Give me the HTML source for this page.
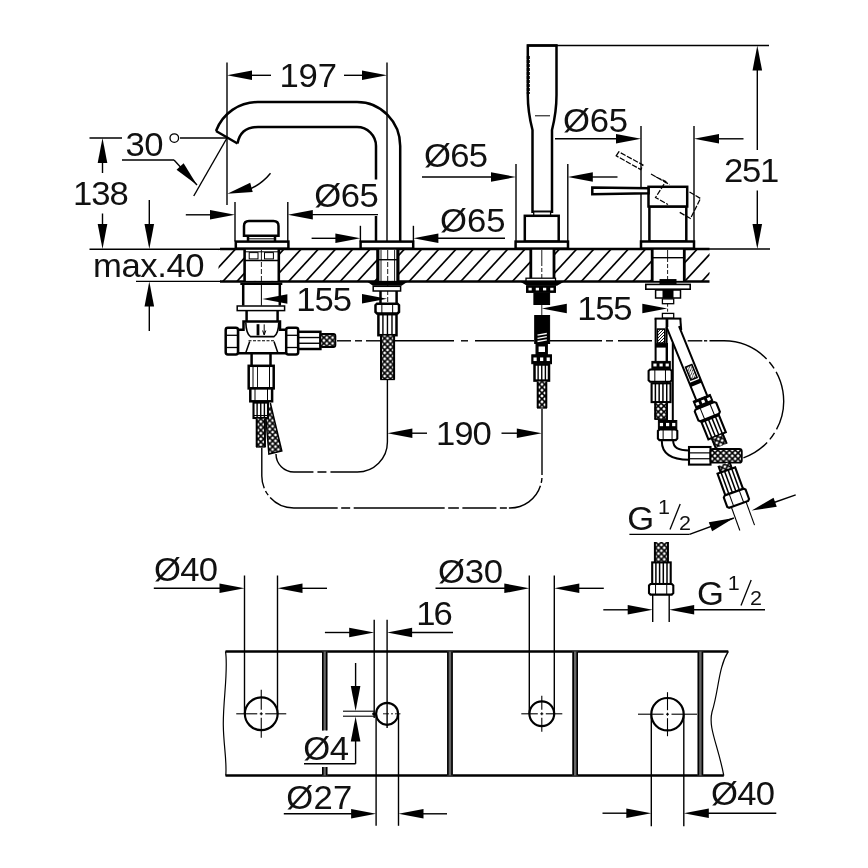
<!DOCTYPE html>
<html><head><meta charset="utf-8"><title>Dimensional drawing</title>
<style>
html,body{margin:0;padding:0;background:#fff;}
svg{display:block;}
text{font-family:"Liberation Sans",sans-serif;fill:#111;stroke:none;}
svg{will-change:transform;}
</style></head>
<body>
<svg width="868" height="868" viewBox="0 0 868 868" stroke="#000" fill="none" stroke-linecap="butt">
<defs>
<pattern id="br" width="5.8" height="5.8" patternUnits="userSpaceOnUse">
<rect width="5.8" height="5.8" fill="#fff" stroke="none"/>
<path d="M-1 -1 L6.8 6.8 M6.8 -1 L-1 6.8" stroke="#000" stroke-width="1.55"/>
</pattern>
<pattern id="br2" width="3" height="3" patternUnits="userSpaceOnUse">
<rect width="3" height="3" fill="#fff" stroke="none"/>
<path d="M-1 4 L4 -1 M-1 1 L1 -1 M2 4 L4 2" stroke="#000" stroke-width="0.9"/>
</pattern>
</defs>
<rect width="868" height="868" fill="#fff" stroke="none"/>
<line x1="227.00" y1="62.50" x2="227.00" y2="205.00" stroke-width="1.4" />
<line x1="387.00" y1="62.50" x2="387.00" y2="241.60" stroke-width="1.4" />
<polygon points="227.00,75.30 252.00,70.50 252.00,80.10" fill="#000" stroke="none"/>
<line x1="251.00" y1="75.30" x2="271.00" y2="75.30" stroke-width="1.4" />
<line x1="344.00" y1="75.30" x2="363.00" y2="75.30" stroke-width="1.4" />
<polygon points="387.00,75.30 362.00,80.10 362.00,70.50" fill="#000" stroke="none"/>
<text transform="translate(279.60 86.60) scale(1.05 1)" font-size="33.0" letter-spacing="-0.24" >197</text>
<line x1="89.50" y1="138.00" x2="122.00" y2="138.00" stroke-width="1.4" />
<line x1="180.00" y1="138.00" x2="227.00" y2="138.00" stroke-width="1.4" />
<polygon points="102.50,138.00 107.30,163.00 97.70,163.00" fill="#000" stroke="none"/>
<line x1="102.50" y1="162.00" x2="102.50" y2="173.00" stroke-width="1.4" />
<line x1="102.50" y1="213.50" x2="102.50" y2="226.00" stroke-width="1.4" />
<polygon points="102.50,249.00 97.70,224.00 107.30,224.00" fill="#000" stroke="none"/>
<text transform="translate(73.00 205.00) scale(1.05 1)" font-size="33.0" letter-spacing="-0.95" >138</text>
<line x1="89.50" y1="249.20" x2="221.00" y2="249.20" stroke-width="1.4" />
<line x1="136.00" y1="281.40" x2="221.00" y2="281.40" stroke-width="1.4" />
<line x1="149.30" y1="200.00" x2="149.30" y2="226.00" stroke-width="1.4" />
<polygon points="149.30,249.00 144.50,224.00 154.10,224.00" fill="#000" stroke="none"/>
<polygon points="149.30,281.50 154.10,306.50 144.50,306.50" fill="#000" stroke="none"/>
<line x1="149.30" y1="305.00" x2="149.30" y2="331.00" stroke-width="1.4" />
<text transform="translate(93.00 276.60) scale(1.05 1)" font-size="33.0" letter-spacing="-0.38" >max.40</text>
<text transform="translate(125.40 156.00) scale(1.05 1)" font-size="33.0" letter-spacing="-0.48" >30</text>
<circle cx="174.3" cy="138.1" r="4.3" fill="none" stroke-width="1.3"/>
<line x1="122.00" y1="160.00" x2="174.00" y2="160.00" stroke-width="1.4" />
<line x1="174.00" y1="160.00" x2="197.00" y2="185.00" stroke-width="1.4" />
<polygon points="197.00,185.00 176.54,169.85 183.61,163.35" fill="#000" stroke="none"/>
<line x1="227.00" y1="138.00" x2="193.75" y2="196.00" stroke-width="1.4" />
<path d="M270.52 173.24 A56 56 0 0 1 246.15 190.62" stroke-width="1.4" fill="none" />
<polygon points="227.30,193.80 250.20,182.67 252.69,191.95" fill="#000" stroke="none"/>
<line x1="235.00" y1="202.00" x2="235.00" y2="241.60" stroke-width="1.4" />
<line x1="287.80" y1="202.00" x2="287.80" y2="241.60" stroke-width="1.4" />
<line x1="185.80" y1="214.80" x2="211.00" y2="214.80" stroke-width="1.4" />
<polygon points="235.00,214.80 210.00,219.60 210.00,210.00" fill="#000" stroke="none"/>
<polygon points="287.80,214.80 312.80,210.00 312.80,219.60" fill="#000" stroke="none"/>
<line x1="311.00" y1="214.60" x2="378.00" y2="214.60" stroke-width="1.4" />
<text transform="translate(314.20 207.00) scale(1.05 1)" font-size="33.0" letter-spacing="-0.48" >Ø65</text>
<line x1="360.40" y1="225.80" x2="360.40" y2="241.60" stroke-width="1.4" />
<line x1="413.40" y1="225.80" x2="413.40" y2="241.60" stroke-width="1.4" />
<line x1="311.60" y1="238.30" x2="337.00" y2="238.30" stroke-width="1.4" />
<polygon points="360.40,238.30 335.40,243.10 335.40,233.50" fill="#000" stroke="none"/>
<polygon points="413.40,238.30 438.40,233.50 438.40,243.10" fill="#000" stroke="none"/>
<line x1="437.00" y1="238.30" x2="505.00" y2="238.30" stroke-width="1.4" />
<text transform="translate(440.00 231.80) scale(1.05 1)" font-size="33.0" letter-spacing="0.00" >Ø65</text>
<line x1="516.00" y1="164.00" x2="516.00" y2="241.60" stroke-width="1.4" />
<line x1="567.80" y1="164.00" x2="567.80" y2="241.60" stroke-width="1.4" />
<line x1="422.00" y1="177.00" x2="492.00" y2="177.00" stroke-width="1.4" />
<polygon points="516.00,177.00 491.00,181.80 491.00,172.20" fill="#000" stroke="none"/>
<polygon points="567.80,177.00 592.80,172.20 592.80,181.80" fill="#000" stroke="none"/>
<line x1="592.00" y1="177.00" x2="617.50" y2="177.00" stroke-width="1.4" />
<text transform="translate(424.00 167.00) scale(1.05 1)" font-size="33.0" letter-spacing="-0.71" >Ø65</text>
<line x1="641.00" y1="126.00" x2="641.00" y2="241.50" stroke-width="1.4" />
<line x1="694.00" y1="126.00" x2="694.00" y2="241.50" stroke-width="1.4" />
<line x1="555.00" y1="138.80" x2="617.00" y2="138.80" stroke-width="1.4" />
<polygon points="641.00,138.80 616.00,143.60 616.00,134.00" fill="#000" stroke="none"/>
<polygon points="694.00,138.80 719.00,134.00 719.00,143.60" fill="#000" stroke="none"/>
<line x1="718.00" y1="138.80" x2="743.50" y2="138.80" stroke-width="1.4" />
<text transform="translate(563.00 131.60) scale(1.05 1)" font-size="33.0" letter-spacing="-0.24" >Ø65</text>
<line x1="556.50" y1="45.50" x2="769.00" y2="45.50" stroke-width="1.4" />
<line x1="709.00" y1="249.00" x2="770.00" y2="249.00" stroke-width="1.4" />
<polygon points="757.30,45.50 762.10,70.50 752.50,70.50" fill="#000" stroke="none"/>
<line x1="757.30" y1="69.00" x2="757.30" y2="150.00" stroke-width="1.4" />
<line x1="757.30" y1="190.50" x2="757.30" y2="225.00" stroke-width="1.4" />
<polygon points="757.30,249.00 752.50,224.00 762.10,224.00" fill="#000" stroke="none"/>
<text transform="translate(724.00 182.00) scale(1.05 1)" font-size="33.0" letter-spacing="-1.19" >251</text>
<polygon points="262.40,299.00 287.40,294.20 287.40,303.80" fill="#000" stroke="none"/>
<polygon points="387.00,298.80 362.00,303.60 362.00,294.00" fill="#000" stroke="none"/>
<text transform="translate(296.20 310.80) scale(1.05 1)" font-size="33.0" letter-spacing="-0.95" >155</text>
<polygon points="541.80,308.50 566.80,303.70 566.80,313.30" fill="#000" stroke="none"/>
<polygon points="667.30,308.50 642.30,313.30 642.30,303.70" fill="#000" stroke="none"/>
<text transform="translate(577.20 320.00) scale(1.05 1)" font-size="33.0" letter-spacing="-1.19" >155</text>
<polygon points="387.40,433.20 412.40,428.40 412.40,438.00" fill="#000" stroke="none"/>
<line x1="411.00" y1="433.20" x2="427.00" y2="433.20" stroke-width="1.4" />
<line x1="501.50" y1="433.20" x2="517.50" y2="433.20" stroke-width="1.4" />
<polygon points="541.80,433.20 516.80,438.00 516.80,428.40" fill="#000" stroke="none"/>
<text transform="translate(436.00 444.80) scale(1.05 1)" font-size="33.0" letter-spacing="-0.95" >190</text>
<clipPath id="cc"><rect x="218.5" y="249" width="491" height="32.5"/></clipPath>
<g clip-path="url(#cc)">
<line x1="201.12" y1="249.00" x2="171.12" y2="281.50" stroke-width="1.7" />
<line x1="218.34" y1="249.00" x2="188.34" y2="281.50" stroke-width="1.7" />
<line x1="235.56" y1="249.00" x2="205.56" y2="281.50" stroke-width="1.7" />
<line x1="252.78" y1="249.00" x2="222.78" y2="281.50" stroke-width="1.7" />
<line x1="266.80" y1="249.00" x2="236.80" y2="281.50" stroke-width="1.7" />
<line x1="284.02" y1="249.00" x2="254.02" y2="281.50" stroke-width="1.7" />
<line x1="301.24" y1="249.00" x2="271.24" y2="281.50" stroke-width="1.7" />
<line x1="318.46" y1="249.00" x2="288.46" y2="281.50" stroke-width="1.7" />
<line x1="335.68" y1="249.00" x2="305.68" y2="281.50" stroke-width="1.7" />
<line x1="352.90" y1="249.00" x2="322.90" y2="281.50" stroke-width="1.7" />
<line x1="370.12" y1="249.00" x2="340.12" y2="281.50" stroke-width="1.7" />
<line x1="387.34" y1="249.00" x2="357.34" y2="281.50" stroke-width="1.7" />
<line x1="404.56" y1="249.00" x2="374.56" y2="281.50" stroke-width="1.7" />
<line x1="421.78" y1="249.00" x2="391.78" y2="281.50" stroke-width="1.7" />
<line x1="439.00" y1="249.00" x2="409.00" y2="281.50" stroke-width="1.7" />
<line x1="456.22" y1="249.00" x2="426.22" y2="281.50" stroke-width="1.7" />
<line x1="473.44" y1="249.00" x2="443.44" y2="281.50" stroke-width="1.7" />
<line x1="490.66" y1="249.00" x2="460.66" y2="281.50" stroke-width="1.7" />
<line x1="507.88" y1="249.00" x2="477.88" y2="281.50" stroke-width="1.7" />
<line x1="525.10" y1="249.00" x2="495.10" y2="281.50" stroke-width="1.7" />
<line x1="542.32" y1="249.00" x2="512.32" y2="281.50" stroke-width="1.7" />
<line x1="559.54" y1="249.00" x2="529.54" y2="281.50" stroke-width="1.7" />
<line x1="576.76" y1="249.00" x2="546.76" y2="281.50" stroke-width="1.7" />
<line x1="593.98" y1="249.00" x2="563.98" y2="281.50" stroke-width="1.7" />
<line x1="611.20" y1="249.00" x2="581.20" y2="281.50" stroke-width="1.7" />
<line x1="628.42" y1="249.00" x2="598.42" y2="281.50" stroke-width="1.7" />
<line x1="645.64" y1="249.00" x2="615.64" y2="281.50" stroke-width="1.7" />
<line x1="662.86" y1="249.00" x2="632.86" y2="281.50" stroke-width="1.7" />
<line x1="680.08" y1="249.00" x2="650.08" y2="281.50" stroke-width="1.7" />
<line x1="697.30" y1="249.00" x2="667.30" y2="281.50" stroke-width="1.7" />
<line x1="714.52" y1="249.00" x2="684.52" y2="281.50" stroke-width="1.7" />
<line x1="731.74" y1="249.00" x2="701.74" y2="281.50" stroke-width="1.7" />
<line x1="748.96" y1="249.00" x2="718.96" y2="281.50" stroke-width="1.7" />
<line x1="766.18" y1="249.00" x2="736.18" y2="281.50" stroke-width="1.7" />
</g>
<line x1="220.00" y1="249.00" x2="709.50" y2="249.00" stroke-width="2.5" />
<line x1="220.00" y1="281.50" x2="709.50" y2="281.50" stroke-width="2.5" />
<path d="M216 131 A44.5 44.5 0 0 1 258 102 H357 A43.2 44 0 0 1 400.2 146 V241.6" stroke-width="2.5" fill="none" />
<path d="M216 131 L237.5 143.5" stroke-width="2.5" fill="none" />
<path d="M237.5 143.5 Q240.5 127 258 127 H357 A19 19 0 0 1 376 146 V179.5" stroke-width="2.5" fill="none" />
<line x1="376.00" y1="216.00" x2="376.00" y2="241.60" stroke-width="2.5" />
<rect x="360.60" y="241.60" width="52.60" height="7.00" stroke-width="2.5" fill="#fff" />
<path d="M244 235.8 V226 Q244 221 249 221 H273.5 Q278.5 221 278.5 226 V235.8 Z" stroke-width="2.5" fill="#fff" />
<path d="M248 235.8 V241.6 M275 235.8 V241.6" stroke-width="2.5" fill="none" />
<line x1="248.00" y1="238.80" x2="275.00" y2="238.80" stroke-width="1.0" />
<rect x="235.80" y="241.60" width="52.60" height="7.00" stroke-width="2.5" fill="#fff" />
<path d="M527.8 45.5 H556.5 V95 Q556.5 112 552 130 V211.8 H532.5 V130 Q527.8 112 527.8 95 Z" stroke-width="2.5" fill="#fff" />
<line x1="527.20" y1="45.50" x2="557.10" y2="45.50" stroke-width="2.2" />
<line x1="528.30" y1="56.00" x2="528.30" y2="94.00" stroke-width="3.0" stroke-dasharray="3 1"/>
<line x1="535.00" y1="115.80" x2="550.00" y2="115.80" stroke-width="1.0" />
<rect x="533.70" y="211.80" width="16.90" height="4.00" stroke-width="1.3" fill="#fff" />
<rect x="524.80" y="215.80" width="33.90" height="25.80" stroke-width="2.5" fill="#fff" />
<rect x="515.60" y="241.60" width="52.40" height="7.00" stroke-width="2.5" fill="#fff" />
<rect x="649.40" y="206.50" width="36.90" height="35.00" stroke-width="2.5" fill="#fff" />
<rect x="648.50" y="186.80" width="38.70" height="19.70" stroke-width="2.5" fill="#fff" />
<path d="M592.3 187.5 L648.5 188.3 V193.2 L592.3 194.2 Z" stroke-width="2.5" fill="#fff" />
<rect x="641.00" y="241.50" width="53.00" height="7.10" stroke-width="2.5" fill="#fff" />
<g stroke-dasharray="5.5 1.5" fill="none" stroke-width="1.25">
<path d="M616.2 155.8 L618.8 151.8 L643 165 L640.8 169.6 Z"/>
<path d="M651 174 L669.5 184.5 M656 177 L665.8 181.5 L655.5 197.5 L668 204.5 M689.5 192 L700.5 198.5 L690.5 218.5 L679 212"/>
</g>
<rect x="244.4" y="249.8" width="34.6" height="31" fill="#fff" stroke="none"/>
<line x1="244.60" y1="249.00" x2="244.60" y2="281.50" stroke-width="2.6" />
<line x1="278.80" y1="249.00" x2="278.80" y2="281.50" stroke-width="2.6" />
<line x1="245.00" y1="251.80" x2="278.00" y2="251.80" stroke-width="1.0" />
<rect x="249.20" y="252.60" width="8.80" height="6.30" stroke-width="1.0" fill="#fff" />
<rect x="264.50" y="252.60" width="8.90" height="6.30" stroke-width="1.0" fill="#fff" />
<line x1="245.00" y1="260.50" x2="278.00" y2="260.50" stroke-width="1.6" />
<line x1="261.40" y1="250.00" x2="261.40" y2="260.00" stroke-width="0.9" />
<line x1="261.40" y1="262.00" x2="261.40" y2="281.00" stroke-width="0.9" stroke-dasharray="5 2"/>
<line x1="261.40" y1="285.00" x2="261.40" y2="305.60" stroke-width="1.0" />
<line x1="240.30" y1="283.70" x2="282.30" y2="283.70" stroke-width="2.6" />
<path d="M243.2 285 V305.6 M279.8 285 V305.6" stroke-width="2.5" fill="none" />
<rect x="237.20" y="306.00" width="47.40" height="4.60" stroke-width="1.5" fill="#fff" />
<path d="M246.6 311 V321.5 M277.6 311 V321.5" stroke-width="2.5" fill="none" />
<path d="M243.5 321.4 H280 V329.7 H286.4 V353.2 H237.9 V329.7 H243.5 Z" stroke-width="2.5" fill="#fff" />
<path d="M245.8 322.5 Q246.2 334 250.5 336.6 H274 Q278.4 334 278.8 322.5" stroke-width="1.6" fill="none" />
<line x1="248.50" y1="340.80" x2="275.50" y2="340.80" stroke-width="1.1" stroke-dasharray="3 1.5"/>
<path d="M249.7 341.5 L245.6 353.2 M274 341.5 L278 353.2" stroke-width="1.5" fill="none" />
<line x1="258.00" y1="324.20" x2="258.00" y2="335.40" stroke-width="2.8" />
<path d="M264.2 324.4 V334.5 M262.6 330.5 L264.2 335 L265.8 330.5" stroke-width="1.0" fill="none" />
<rect x="225.7" y="327.7" width="12.3" height="26.7" rx="2.2" fill="#fff" stroke-width="2.5"/>
<line x1="226.50" y1="335.30" x2="238.00" y2="335.30" stroke-width="1.3" />
<line x1="226.50" y1="347.50" x2="238.00" y2="347.50" stroke-width="1.3" />
<rect x="286.2" y="327.7" width="12" height="26.7" rx="2.2" fill="#fff" stroke-width="2.5"/>
<line x1="286.50" y1="335.30" x2="298.00" y2="335.30" stroke-width="1.3" />
<line x1="286.50" y1="347.50" x2="298.00" y2="347.50" stroke-width="1.3" />
<rect x="298.20" y="331.80" width="22.20" height="17.20" stroke-width="2.5" fill="#fff" />
<line x1="298.20" y1="337.53" x2="320.40" y2="337.53" stroke-width="1.4" />
<line x1="298.20" y1="343.27" x2="320.40" y2="343.27" stroke-width="1.4" />
<pattern id="b1" x="321.00" y="340.50" width="5.8" height="5.8" patternUnits="userSpaceOnUse"><rect width="5.8" height="5.8" fill="#fff" stroke="none"/><path d="M-1 -1 L6.8 6.8 M6.8 -1 L-1 6.8" stroke="#000" stroke-width="1.55"/></pattern>
<rect x="320.4" y="334" width="15" height="13" rx="2" fill="url(#b1)" stroke-width="1.8"/>
<path d="M251.6 352 V365.8 M270.5 352 V365.8" stroke-width="2.5" fill="none" />
<rect x="248.70" y="365.80" width="25.00" height="22.60" stroke-width="2.5" fill="#fff" />
<line x1="253.00" y1="366.00" x2="253.00" y2="388.00" stroke-width="1.0" />
<line x1="257.50" y1="366.00" x2="257.50" y2="388.00" stroke-width="0.9" />
<line x1="269.50" y1="366.00" x2="269.50" y2="388.00" stroke-width="1.0" />
<rect x="250.30" y="388.40" width="21.80" height="12.90" stroke-width="2.5" fill="#fff" />
<line x1="255.00" y1="389.00" x2="255.00" y2="401.00" stroke-width="1.0" />
<line x1="267.50" y1="389.00" x2="267.50" y2="401.00" stroke-width="1.0" />
<polygon points="266.5,418.7 270.3,404 281.8,451 268.9,454" fill="url(#br)" stroke="none"/>
<path d="M270.3 403 L281.8 451 L268.9 454 L266 419" stroke-width="1.5" fill="none" />
<rect x="253.50" y="402.60" width="14.50" height="15.40" stroke-width="2.1" fill="#fff" />
<line x1="257.12" y1="402.60" x2="257.12" y2="418.00" stroke-width="1.4" />
<line x1="260.75" y1="402.60" x2="260.75" y2="418.00" stroke-width="1.4" />
<line x1="264.38" y1="402.60" x2="264.38" y2="418.00" stroke-width="1.4" />
<line x1="253.50" y1="415.50" x2="268.00" y2="415.50" stroke-width="1.0" />
<pattern id="b2" x="260.80" y="418.70" width="5.8" height="5.8" patternUnits="userSpaceOnUse"><rect width="5.8" height="5.8" fill="#fff" stroke="none"/><path d="M-1 -1 L6.8 6.8 M6.8 -1 L-1 6.8" stroke="#000" stroke-width="1.55"/></pattern>
<rect x="256.00" y="418.70" width="9.60" height="28.30" fill="url(#b2)" stroke="none"/>
<line x1="256.70" y1="418.70" x2="256.70" y2="447.00" stroke-width="2.0" />
<line x1="264.90" y1="418.70" x2="264.90" y2="447.00" stroke-width="2.0" />
<line x1="256.00" y1="447.00" x2="265.60" y2="447.00" stroke-width="1.3" />
<rect x="377.3" y="249.8" width="21" height="31" fill="#fff" stroke="none"/>
<line x1="377.80" y1="249.00" x2="377.80" y2="281.50" stroke-width="3.2" />
<line x1="397.90" y1="249.00" x2="397.90" y2="281.50" stroke-width="3.2" />
<line x1="381.00" y1="250.00" x2="381.00" y2="281.00" stroke-width="0.9" />
<line x1="394.60" y1="250.00" x2="394.60" y2="281.00" stroke-width="0.9" />
<line x1="379.00" y1="259.70" x2="397.00" y2="259.70" stroke-width="1.4" />
<line x1="387.70" y1="250.00" x2="387.70" y2="259.00" stroke-width="0.9" />
<line x1="387.70" y1="262.00" x2="387.70" y2="303.00" stroke-width="0.9" stroke-dasharray="5 2"/>
<polygon points="366.8,281.5 407.9,281.5 401.5,285.8 373,285.8" fill="#000" stroke="none"/>
<rect x="373.20" y="286.30" width="27.40" height="4.70" stroke-width="1.5" fill="#fff" />
<path d="M380.5 291 V304 M396.6 291 V304" stroke-width="2.5" fill="none" />
<path d="M377.00 303.70 H397.50 L399.00 305.20 V311.90 L397.50 313.40 H377.00 L375.50 311.90 V305.20 Z" stroke-width="2.5" fill="#fff" />
<line x1="381.85" y1="303.70" x2="381.85" y2="313.40" stroke-width="1.0" />
<line x1="392.65" y1="303.70" x2="392.65" y2="313.40" stroke-width="1.0" />
<rect x="378.40" y="314.20" width="18.10" height="21.00" stroke-width="2.5" fill="#fff" />
<line x1="382.92" y1="314.20" x2="382.92" y2="335.20" stroke-width="1.4" />
<line x1="387.45" y1="314.20" x2="387.45" y2="335.20" stroke-width="1.4" />
<line x1="391.98" y1="314.20" x2="391.98" y2="335.20" stroke-width="1.4" />
<pattern id="b3" x="387.55" y="335.50" width="5.8" height="5.8" patternUnits="userSpaceOnUse"><rect width="5.8" height="5.8" fill="#fff" stroke="none"/><path d="M-1 -1 L6.8 6.8 M6.8 -1 L-1 6.8" stroke="#000" stroke-width="1.55"/></pattern>
<rect x="380.30" y="335.50" width="14.50" height="44.00" fill="url(#b3)" stroke="none"/>
<line x1="381.00" y1="335.50" x2="381.00" y2="379.50" stroke-width="2.0" />
<line x1="394.10" y1="335.50" x2="394.10" y2="379.50" stroke-width="2.0" />
<line x1="380.30" y1="379.50" x2="394.80" y2="379.50" stroke-width="1.3" />
<rect x="530.5" y="249.8" width="23.7" height="30" fill="#fff" stroke="none"/>
<line x1="530.80" y1="249.00" x2="530.80" y2="279.00" stroke-width="2.8" />
<line x1="554.00" y1="249.00" x2="554.00" y2="279.00" stroke-width="2.8" />
<line x1="541.80" y1="250.00" x2="541.80" y2="262.00" stroke-width="0.9" />
<line x1="541.80" y1="262.00" x2="541.80" y2="285.00" stroke-width="0.9" stroke-dasharray="4 2"/>
<rect x="526.00" y="278.20" width="29.50" height="2.80" stroke-width="1.3" fill="#fff" />
<polygon points="520.8,282 563.5,282 557,285.8 527,285.8" fill="#000" stroke="none"/>
<rect x="526.50" y="285.80" width="29.00" height="6.60" stroke-width="1.0" fill="#000" />
<rect x="528.52" y="287.78" width="3.2" height="2.64" fill="#fff" stroke="none"/>
<rect x="535.77" y="287.78" width="3.2" height="2.64" fill="#fff" stroke="none"/>
<rect x="543.02" y="287.78" width="3.2" height="2.64" fill="#fff" stroke="none"/>
<rect x="550.27" y="287.78" width="3.2" height="2.64" fill="#fff" stroke="none"/>
<rect x="533.90" y="293.00" width="15.70" height="11.50" stroke-width="1.0" fill="#000" />
<line x1="541.80" y1="304.50" x2="541.80" y2="315.80" stroke-width="0.9" />
<rect x="534.70" y="315.50" width="14.90" height="28.00" stroke-width="1.0" fill="#000" />
<line x1="537.50" y1="335.10" x2="546.80" y2="333.50" stroke-width="1.3" stroke="#fff"/>
<line x1="537.50" y1="338.30" x2="546.80" y2="336.70" stroke-width="1.3" stroke="#fff"/>
<line x1="537.50" y1="341.50" x2="546.80" y2="339.90" stroke-width="1.3" stroke="#fff"/>
<rect x="536.20" y="343.50" width="11.00" height="11.30" stroke-width="1.4" fill="#000" />
<rect x="538.6" y="346.5" width="6.4" height="5.5" fill="#fff" stroke="none"/>
<rect x="531.80" y="354.80" width="19.70" height="8.90" stroke-width="1.0" fill="#000" />
<rect x="533.48" y="357.47" width="3.2" height="3.56" fill="#fff" stroke="none"/>
<rect x="540.05" y="357.47" width="3.2" height="3.56" fill="#fff" stroke="none"/>
<rect x="546.62" y="357.47" width="3.2" height="3.56" fill="#fff" stroke="none"/>
<rect x="534.50" y="364.50" width="14.50" height="16.10" stroke-width="2.5" fill="#fff" />
<line x1="538.12" y1="364.50" x2="538.12" y2="380.60" stroke-width="1.4" />
<line x1="541.75" y1="364.50" x2="541.75" y2="380.60" stroke-width="1.4" />
<line x1="545.38" y1="364.50" x2="545.38" y2="380.60" stroke-width="1.4" />
<pattern id="b4" x="542.00" y="381.50" width="5.8" height="5.8" patternUnits="userSpaceOnUse"><rect width="5.8" height="5.8" fill="#fff" stroke="none"/><path d="M-1 -1 L6.8 6.8 M6.8 -1 L-1 6.8" stroke="#000" stroke-width="1.55"/></pattern>
<rect x="537.00" y="381.50" width="10.00" height="26.50" fill="url(#b4)" stroke="none"/>
<line x1="537.70" y1="381.50" x2="537.70" y2="408.00" stroke-width="2.0" />
<line x1="546.30" y1="381.50" x2="546.30" y2="408.00" stroke-width="2.0" />
<line x1="537.00" y1="408.00" x2="547.00" y2="408.00" stroke-width="1.3" />
<rect x="652" y="249.8" width="32.5" height="31" fill="#fff" stroke="none"/>
<line x1="652.20" y1="249.00" x2="652.20" y2="281.50" stroke-width="2.8" />
<line x1="684.30" y1="249.00" x2="684.30" y2="281.50" stroke-width="2.8" />
<line x1="653.00" y1="257.70" x2="684.00" y2="257.70" stroke-width="1.4" />
<line x1="667.60" y1="250.00" x2="667.60" y2="258.00" stroke-width="0.9" />
<line x1="667.60" y1="258.00" x2="667.60" y2="280.00" stroke-width="0.9" stroke-dasharray="4 2"/>
<rect x="660.00" y="279.60" width="16.00" height="4.20" stroke-width="1.0" fill="#000" />
<rect x="645.80" y="284.40" width="44.40" height="4.80" stroke-width="1.6" fill="#fff" />
<rect x="655.60" y="290.00" width="24.90" height="8.00" stroke-width="1.5" fill="#fff" />
<rect x="663.00" y="290.00" width="10.00" height="8.00" stroke-width="1.0" fill="#000" />
<rect x="662.40" y="298.90" width="11.30" height="4.80" stroke-width="1.3" fill="#fff" />
<line x1="667.60" y1="303.70" x2="667.60" y2="313.40" stroke-width="0.9" stroke-dasharray="3 2"/>
<rect x="662.40" y="313.40" width="11.30" height="4.80" stroke-width="1.3" fill="#fff" />
<path d="M667 343 V420 M672.8 343 V420" stroke-width="2.0" fill="none" />
<rect x="650" y="319" width="16" height="101" fill="#fff" stroke="none"/>
<path d="M655.6 318.6 V361.6 M666.6 318.6 V361.6" stroke-width="2.0" fill="none" />
<rect x="657.4" y="329.1" width="7.4" height="14" fill="url(#br2)" stroke-width="1.6"/>
<line x1="655.60" y1="345.40" x2="666.60" y2="345.40" stroke-width="4.4" />
<rect x="651.90" y="361.40" width="18.40" height="7.20" stroke-width="1.0" fill="#000" />
<rect x="653.37" y="363.56" width="3.2" height="2.88" fill="#fff" stroke="none"/>
<rect x="659.50" y="363.56" width="3.2" height="2.88" fill="#fff" stroke="none"/>
<rect x="665.63" y="363.56" width="3.2" height="2.88" fill="#fff" stroke="none"/>
<path d="M650.10 369.50 H670.20 L671.70 371.00 V380.30 L670.20 381.80 H650.10 L648.60 380.30 V371.00 Z" stroke-width="2.1" fill="#fff" />
<line x1="654.84" y1="369.50" x2="654.84" y2="381.80" stroke-width="1.0" />
<line x1="665.46" y1="369.50" x2="665.46" y2="381.80" stroke-width="1.0" />
<rect x="651.60" y="383.30" width="18.90" height="18.80" stroke-width="2.1" fill="#fff" />
<line x1="655.38" y1="383.30" x2="655.38" y2="402.10" stroke-width="1.5" />
<line x1="659.16" y1="383.30" x2="659.16" y2="402.10" stroke-width="1.5" />
<line x1="662.94" y1="383.30" x2="662.94" y2="402.10" stroke-width="1.5" />
<line x1="666.72" y1="383.30" x2="666.72" y2="402.10" stroke-width="1.5" />
<pattern id="b5" x="661.10" y="403.10" width="5.8" height="5.8" patternUnits="userSpaceOnUse"><rect width="5.8" height="5.8" fill="#fff" stroke="none"/><path d="M-1 -1 L6.8 6.8 M6.8 -1 L-1 6.8" stroke="#000" stroke-width="1.55"/></pattern>
<rect x="654.50" y="403.10" width="13.20" height="16.20" fill="url(#b5)" stroke="none"/>
<line x1="655.20" y1="403.10" x2="655.20" y2="419.30" stroke-width="2.0" />
<line x1="667.00" y1="403.10" x2="667.00" y2="419.30" stroke-width="2.0" />
<line x1="654.50" y1="419.30" x2="667.70" y2="419.30" stroke-width="1.3" />
<rect x="658.40" y="420.50" width="18.40" height="8.10" stroke-width="1.0" fill="#000" />
<rect x="659.87" y="422.93" width="3.2" height="3.24" fill="#fff" stroke="none"/>
<rect x="666.00" y="422.93" width="3.2" height="3.24" fill="#fff" stroke="none"/>
<rect x="672.13" y="422.93" width="3.2" height="3.24" fill="#fff" stroke="none"/>
<path d="M659.40 429.40 H675.80 L677.30 430.90 V438.60 L675.80 440.10 H659.40 L657.90 438.60 V430.90 Z" stroke-width="2.1" fill="#fff" />
<line x1="663.14" y1="429.40" x2="663.14" y2="440.10" stroke-width="1.0" />
<line x1="672.06" y1="429.40" x2="672.06" y2="440.10" stroke-width="1.0" />
<path d="M661.8 441 Q661.8 459.7 689 459.7 M673.2 441 Q673.2 450.5 689 450.5" stroke-width="2.0" fill="none" />
<rect x="689.00" y="447.00" width="21.50" height="17.60" stroke-width="2.1" fill="#fff" />
<line x1="689.00" y1="452.87" x2="710.50" y2="452.87" stroke-width="1.2" />
<line x1="689.00" y1="458.73" x2="710.50" y2="458.73" stroke-width="1.2" />
<pattern id="b6" x="712.00" y="455.85" width="5.8" height="5.8" patternUnits="userSpaceOnUse"><rect width="5.8" height="5.8" fill="#fff" stroke="none"/><path d="M-1 -1 L6.8 6.8 M6.8 -1 L-1 6.8" stroke="#000" stroke-width="1.55"/></pattern>
<rect x="710.5" y="449" width="31.3" height="13.7" rx="2.5" fill="url(#b6)" stroke-width="1.8"/>
<g transform="rotate(-22.1 669.7 319)">
<rect x="663.75" y="328" width="11.9" height="78" fill="#fff" stroke="none"/>
<path d="M663.75 325 V404 M675.6500000000001 329 V404" stroke-width="2.0" fill="none" />
<rect x="666.3000000000001" y="369.5" width="6.8" height="14" fill="url(#br2)" stroke-width="1.6"/>
<line x1="663.75" y1="387.80" x2="675.65" y2="387.80" stroke-width="4.2" />
<rect x="660.50" y="404.00" width="18.40" height="8.00" stroke-width="1.0" fill="#000" />
<rect x="661.97" y="406.40" width="3.2" height="3.20" fill="#fff" stroke="none"/>
<rect x="668.10" y="406.40" width="3.2" height="3.20" fill="#fff" stroke="none"/>
<rect x="674.23" y="406.40" width="3.2" height="3.20" fill="#fff" stroke="none"/>
<path d="M659.60 412.70 H679.80 L681.30 414.20 V423.80 L679.80 425.30 H659.60 L658.10 423.80 V414.20 Z" stroke-width="2.1" fill="#fff" />
<line x1="664.36" y1="412.70" x2="664.36" y2="425.30" stroke-width="1.0" />
<line x1="675.04" y1="412.70" x2="675.04" y2="425.30" stroke-width="1.0" />
<rect x="660.30" y="426.50" width="18.80" height="18.50" stroke-width="2.1" fill="#fff" />
<line x1="664.06" y1="426.50" x2="664.06" y2="445.00" stroke-width="1.5" />
<line x1="667.82" y1="426.50" x2="667.82" y2="445.00" stroke-width="1.5" />
<line x1="671.58" y1="426.50" x2="671.58" y2="445.00" stroke-width="1.5" />
<line x1="675.34" y1="426.50" x2="675.34" y2="445.00" stroke-width="1.5" />
<pattern id="b7" x="669.70" y="445.60" width="5.8" height="5.8" patternUnits="userSpaceOnUse"><rect width="5.8" height="5.8" fill="#fff" stroke="none"/><path d="M-1 -1 L6.8 6.8 M6.8 -1 L-1 6.8" stroke="#000" stroke-width="1.55"/></pattern>
<rect x="663.10" y="445.60" width="13.20" height="10.40" fill="url(#b7)" stroke="none"/>
<line x1="663.80" y1="445.60" x2="663.80" y2="456.00" stroke-width="2.0" />
<line x1="675.60" y1="445.60" x2="675.60" y2="456.00" stroke-width="2.0" />
</g>
<line x1="654.60" y1="318.60" x2="681.30" y2="318.60" stroke-width="2.0" />
<path d="M680.3 318.6 L681.2 330" stroke-width="2.0" fill="none" />
<path d="M667.3 318.6 V327" stroke-width="2.0" fill="none" />
<g transform="rotate(-20 723.6 463)">
<pattern id="b8" x="723.60" y="464.00" width="5.8" height="5.8" patternUnits="userSpaceOnUse"><rect width="5.8" height="5.8" fill="#fff" stroke="none"/><path d="M-1 -1 L6.8 6.8 M6.8 -1 L-1 6.8" stroke="#000" stroke-width="1.55"/></pattern>
<rect x="717.00" y="464.00" width="13.20" height="7.00" fill="url(#b8)" stroke="none"/>
<line x1="717.70" y1="464.00" x2="717.70" y2="471.00" stroke-width="2.0" />
<line x1="729.50" y1="464.00" x2="729.50" y2="471.00" stroke-width="2.0" />
<rect x="714.20" y="471.00" width="18.80" height="23.00" stroke-width="2.1" fill="#fff" />
<line x1="717.96" y1="471.00" x2="717.96" y2="494.00" stroke-width="1.5" />
<line x1="721.72" y1="471.00" x2="721.72" y2="494.00" stroke-width="1.5" />
<line x1="725.48" y1="471.00" x2="725.48" y2="494.00" stroke-width="1.5" />
<line x1="729.24" y1="471.00" x2="729.24" y2="494.00" stroke-width="1.5" />
<path d="M713.50 494.00 H733.70 L735.20 495.50 V505.50 L733.70 507.00 H713.50 L712.00 505.50 V495.50 Z" stroke-width="2.1" fill="#fff" />
<line x1="718.26" y1="494.00" x2="718.26" y2="507.00" stroke-width="1.0" />
<line x1="728.94" y1="494.00" x2="728.94" y2="507.00" stroke-width="1.0" />
<line x1="715.80" y1="507.00" x2="715.80" y2="532.00" stroke-width="1.1" />
<line x1="731.40" y1="507.00" x2="731.40" y2="532.00" stroke-width="1.1" />
</g>
<text transform="translate(627.20 529.60) scale(1.05 1)" font-size="33.0" letter-spacing="0.00" >G</text>
<text transform="translate(658.00 514.20) scale(1.05 1)" font-size="20.5" letter-spacing="0.00" >1</text>
<line x1="670.00" y1="529.60" x2="680.20" y2="504.00" stroke-width="1.3" />
<text transform="translate(679.00 529.60) scale(1.05 1)" font-size="20.5" letter-spacing="0.00" >2</text>
<line x1="629.40" y1="534.40" x2="689.50" y2="534.40" stroke-width="1.4" />
<line x1="689.50" y1="534.40" x2="733.90" y2="518.00" stroke-width="1.4" />
<polygon points="733.90,518.00 712.11,531.16 708.79,522.16" fill="#000" stroke="none"/>
<polygon points="751.60,510.60 773.54,497.69 776.76,506.74" fill="#000" stroke="none"/>
<line x1="774.00" y1="502.50" x2="795.70" y2="494.80" stroke-width="1.4" />
<pattern id="b9" x="661.40" y="542.00" width="5.8" height="5.8" patternUnits="userSpaceOnUse"><rect width="5.8" height="5.8" fill="#fff" stroke="none"/><path d="M-1 -1 L6.8 6.8 M6.8 -1 L-1 6.8" stroke="#000" stroke-width="1.55"/></pattern>
<rect x="654.20" y="542.00" width="14.40" height="20.40" fill="url(#b9)" stroke="none"/>
<line x1="654.90" y1="542.00" x2="654.90" y2="562.40" stroke-width="2.0" />
<line x1="667.90" y1="542.00" x2="667.90" y2="562.40" stroke-width="2.0" />
<rect x="652.20" y="562.40" width="18.50" height="21.60" stroke-width="2.1" fill="#fff" />
<line x1="655.90" y1="562.40" x2="655.90" y2="584.00" stroke-width="1.5" />
<line x1="659.60" y1="562.40" x2="659.60" y2="584.00" stroke-width="1.5" />
<line x1="663.30" y1="562.40" x2="663.30" y2="584.00" stroke-width="1.5" />
<line x1="667.00" y1="562.40" x2="667.00" y2="584.00" stroke-width="1.5" />
<path d="M650.50 584.00 H671.80 L673.30 585.50 V593.10 L671.80 594.60 H650.50 L649.00 593.10 V585.50 Z" stroke-width="2.1" fill="#fff" />
<line x1="655.56" y1="584.00" x2="655.56" y2="594.60" stroke-width="1.0" />
<line x1="666.74" y1="584.00" x2="666.74" y2="594.60" stroke-width="1.0" />
<line x1="652.70" y1="594.60" x2="652.70" y2="622.00" stroke-width="1.4" />
<line x1="669.20" y1="594.60" x2="669.20" y2="622.00" stroke-width="1.4" />
<line x1="603.30" y1="609.80" x2="629.00" y2="609.80" stroke-width="1.4" />
<polygon points="652.70,609.80 627.70,614.60 627.70,605.00" fill="#000" stroke="none"/>
<polygon points="669.20,609.80 694.20,605.00 694.20,614.60" fill="#000" stroke="none"/>
<line x1="693.00" y1="609.80" x2="765.00" y2="609.80" stroke-width="1.4" />
<text transform="translate(697.00 605.00) scale(1.05 1)" font-size="33.0" letter-spacing="0.00" >G</text>
<text transform="translate(727.80 589.80) scale(1.05 1)" font-size="20.5" letter-spacing="0.00" >1</text>
<line x1="741.00" y1="605.60" x2="751.20" y2="580.00" stroke-width="1.3" />
<text transform="translate(750.00 605.00) scale(1.05 1)" font-size="20.5" letter-spacing="0.00" >2</text>
<line x1="337.00" y1="340.80" x2="351.00" y2="340.80" stroke-width="1.4" />
<line x1="355.00" y1="340.80" x2="362.00" y2="340.80" stroke-width="1.4" />
<line x1="366.00" y1="340.80" x2="380.00" y2="340.80" stroke-width="1.4" />
<line x1="395.00" y1="340.80" x2="454.00" y2="340.80" stroke-width="1.4" />
<line x1="461.00" y1="340.80" x2="468.00" y2="340.80" stroke-width="1.4" />
<line x1="475.00" y1="340.80" x2="534.00" y2="340.80" stroke-width="1.4" />
<line x1="550.00" y1="340.80" x2="602.00" y2="340.80" stroke-width="1.4" />
<line x1="606.00" y1="340.80" x2="613.00" y2="340.80" stroke-width="1.4" />
<line x1="618.00" y1="340.80" x2="652.00" y2="340.80" stroke-width="1.4" />
<line x1="687.70" y1="340.80" x2="702.30" y2="340.80" stroke-width="1.4" />
<line x1="704.00" y1="340.80" x2="707.20" y2="340.80" stroke-width="1.4" />
<path d="M709.5 340.8 H724 A60.2 60.2 0 0 1 743.4 457.8" stroke-width="1.4" fill="none" stroke-dasharray="62 4 8 4 60 4 8 4"/>
<path d="M542 409 V476 A32 32 0 0 1 510 508 H293.8 A32 32 0 0 1 261.8 476 V447.7" stroke-width="1.4" fill="none" stroke-dasharray="66 3 5 3 41.3 2 7 3.5 34 3.5 10.7 3.5 91 3.5 9 3.5 70.5 3 5 3 100"/>
<path d="M387.4 380 V442 A30 30 0 0 1 357.4 472 H294 A18 18 0 0 1 276 454" stroke-width="1.4" fill="none" stroke-dasharray="136 4 9 4 300"/>
<line x1="225.50" y1="651.40" x2="728.30" y2="651.40" stroke-width="2.5" />
<line x1="225.50" y1="775.60" x2="723.80" y2="775.60" stroke-width="2.5" />
<path d="M225.5 651.4 C228.5 670 223 700 223.3 725 C223.5 745 227 760 225.8 775.6" stroke-width="1.2" fill="none" />
<path d="M728.3 651.4 C718 668 719 690 712 712 C708 728 718 745 723.8 775.6" stroke-width="1.2" fill="none" />
<rect x="322.0" y="651.4" width="5.40" height="79.00" fill="#666" stroke="none"/>
<line x1="322.80" y1="651.40" x2="322.80" y2="730.40" stroke-width="1.6" />
<line x1="326.60" y1="651.40" x2="326.60" y2="730.40" stroke-width="1.6" />
<rect x="322.0" y="767" width="5.40" height="8.60" fill="#666" stroke="none"/>
<line x1="322.80" y1="767.00" x2="322.80" y2="775.60" stroke-width="1.6" />
<line x1="326.60" y1="767.00" x2="326.60" y2="775.60" stroke-width="1.6" />
<rect x="447.1" y="651.4" width="5.70" height="124.20" fill="#666" stroke="none"/>
<line x1="447.90" y1="651.40" x2="447.90" y2="775.60" stroke-width="1.6" />
<line x1="452.00" y1="651.40" x2="452.00" y2="775.60" stroke-width="1.6" />
<rect x="572.4" y="651.4" width="5.60" height="124.20" fill="#666" stroke="none"/>
<line x1="573.20" y1="651.40" x2="573.20" y2="775.60" stroke-width="1.6" />
<line x1="577.20" y1="651.40" x2="577.20" y2="775.60" stroke-width="1.6" />
<rect x="697.6" y="651.4" width="5.60" height="124.20" fill="#666" stroke="none"/>
<line x1="698.40" y1="651.40" x2="698.40" y2="775.60" stroke-width="1.6" />
<line x1="702.40" y1="651.40" x2="702.40" y2="775.60" stroke-width="1.6" />
<circle cx="261.25" cy="713.8" r="16.4" fill="none" stroke-width="2.2"/>
<line x1="236.25" y1="713.80" x2="257.25" y2="713.80" stroke-width="1.1" />
<line x1="265.25" y1="713.80" x2="286.25" y2="713.80" stroke-width="1.1" />
<line x1="259.75" y1="713.80" x2="262.75" y2="713.80" stroke-width="1.1" />
<line x1="261.25" y1="689.80" x2="261.25" y2="709.80" stroke-width="1.1" />
<line x1="261.25" y1="717.80" x2="261.25" y2="737.80" stroke-width="1.1" />
<line x1="261.25" y1="712.30" x2="261.25" y2="715.30" stroke-width="1.1" />
<circle cx="541.8" cy="713.8" r="12.4" fill="none" stroke-width="2.2"/>
<line x1="521.30" y1="713.80" x2="537.80" y2="713.80" stroke-width="1.1" />
<line x1="545.80" y1="713.80" x2="562.30" y2="713.80" stroke-width="1.1" />
<line x1="540.30" y1="713.80" x2="543.30" y2="713.80" stroke-width="1.1" />
<line x1="541.80" y1="695.80" x2="541.80" y2="709.80" stroke-width="1.1" />
<line x1="541.80" y1="717.80" x2="541.80" y2="731.80" stroke-width="1.1" />
<line x1="541.80" y1="712.30" x2="541.80" y2="715.30" stroke-width="1.1" />
<circle cx="667.5" cy="714.2" r="16.2" fill="none" stroke-width="2.2"/>
<line x1="638.00" y1="714.20" x2="663.50" y2="714.20" stroke-width="1.1" />
<line x1="671.50" y1="714.20" x2="697.00" y2="714.20" stroke-width="1.1" />
<line x1="666.00" y1="714.20" x2="669.00" y2="714.20" stroke-width="1.1" />
<line x1="667.50" y1="692.20" x2="667.50" y2="710.20" stroke-width="1.1" />
<line x1="667.50" y1="718.20" x2="667.50" y2="736.20" stroke-width="1.1" />
<line x1="667.50" y1="712.70" x2="667.50" y2="715.70" stroke-width="1.1" />
<circle cx="387.1" cy="713.8" r="11.0" fill="none" stroke-width="2.2"/>
<line x1="383.00" y1="713.80" x2="400.50" y2="713.80" stroke-width="0.9" stroke-dasharray="6 2 2 2"/>
<line x1="387.10" y1="619.80" x2="387.10" y2="728.00" stroke-width="1.4" />
<text transform="translate(154.00 580.80) scale(1.05 1)" font-size="33.0" letter-spacing="-0.71" >Ø40</text>
<line x1="153.80" y1="588.30" x2="221.00" y2="588.30" stroke-width="1.4" />
<polygon points="244.50,588.30 219.50,593.10 219.50,583.50" fill="#000" stroke="none"/>
<polygon points="277.50,588.30 302.50,583.50 302.50,593.10" fill="#000" stroke="none"/>
<line x1="301.00" y1="588.30" x2="327.00" y2="588.30" stroke-width="1.4" />
<line x1="244.50" y1="575.50" x2="244.50" y2="713.80" stroke-width="1.4" />
<line x1="277.50" y1="575.50" x2="277.50" y2="713.80" stroke-width="1.4" />
<text transform="translate(416.20 624.60) scale(1.05 1)" font-size="33.0" letter-spacing="-1.90" >16</text>
<line x1="324.90" y1="632.50" x2="350.50" y2="632.50" stroke-width="1.4" />
<polygon points="374.20,632.50 349.20,637.30 349.20,627.70" fill="#000" stroke="none"/>
<polygon points="387.10,632.50 412.10,627.70 412.10,637.30" fill="#000" stroke="none"/>
<line x1="411.00" y1="632.50" x2="453.00" y2="632.50" stroke-width="1.4" />
<line x1="374.20" y1="619.80" x2="374.20" y2="718.00" stroke-width="1.4" />
<text transform="translate(438.00 582.80) scale(1.05 1)" font-size="33.0" letter-spacing="-0.24" >Ø30</text>
<line x1="435.50" y1="588.30" x2="506.00" y2="588.30" stroke-width="1.4" />
<polygon points="529.30,588.30 504.30,593.10 504.30,583.50" fill="#000" stroke="none"/>
<polygon points="554.30,588.30 579.30,583.50 579.30,593.10" fill="#000" stroke="none"/>
<line x1="578.00" y1="588.30" x2="603.80" y2="588.30" stroke-width="1.4" />
<line x1="529.30" y1="575.50" x2="529.30" y2="713.80" stroke-width="1.4" />
<line x1="554.30" y1="575.50" x2="554.30" y2="713.80" stroke-width="1.4" />
<text transform="translate(303.20 759.60) scale(1.05 1)" font-size="33.0" letter-spacing="-0.48" >Ø4</text>
<line x1="304.00" y1="763.80" x2="355.60" y2="763.80" stroke-width="1.4" />
<line x1="355.60" y1="663.00" x2="355.60" y2="688.00" stroke-width="1.4" />
<polygon points="355.60,711.00 350.80,686.00 360.40,686.00" fill="#000" stroke="none"/>
<polygon points="355.60,716.60 360.40,741.60 350.80,741.60" fill="#000" stroke="none"/>
<line x1="355.60" y1="739.00" x2="355.60" y2="763.80" stroke-width="1.4" />
<line x1="343.00" y1="711.20" x2="374.50" y2="711.20" stroke-width="1.1" />
<line x1="343.00" y1="716.20" x2="374.50" y2="716.20" stroke-width="1.1" />
<circle cx="373.8" cy="713.8" r="1.6" fill="#000" stroke="none"/>
<text transform="translate(286.20 808.60) scale(1.05 1)" font-size="33.0" letter-spacing="0.24" >Ø27</text>
<line x1="283.80" y1="813.80" x2="352.00" y2="813.80" stroke-width="1.4" />
<polygon points="376.10,813.80 351.10,818.60 351.10,809.00" fill="#000" stroke="none"/>
<polygon points="398.50,813.80 423.50,809.00 423.50,818.60" fill="#000" stroke="none"/>
<line x1="422.00" y1="813.80" x2="447.00" y2="813.80" stroke-width="1.4" />
<line x1="376.10" y1="713.80" x2="376.10" y2="825.80" stroke-width="1.4" />
<line x1="398.50" y1="713.80" x2="398.50" y2="825.80" stroke-width="1.4" />
<text transform="translate(711.00 804.80) scale(1.05 1)" font-size="33.0" letter-spacing="-0.71" >Ø40</text>
<line x1="602.50" y1="813.20" x2="627.00" y2="813.20" stroke-width="1.4" />
<polygon points="651.30,813.20 626.30,818.00 626.30,808.40" fill="#000" stroke="none"/>
<polygon points="683.80,813.20 708.80,808.40 708.80,818.00" fill="#000" stroke="none"/>
<line x1="707.00" y1="813.20" x2="776.30" y2="813.20" stroke-width="1.4" />
<line x1="651.30" y1="714.20" x2="651.30" y2="826.30" stroke-width="1.4" />
<line x1="683.80" y1="714.20" x2="683.80" y2="826.30" stroke-width="1.4" />
</svg>
</body></html>
